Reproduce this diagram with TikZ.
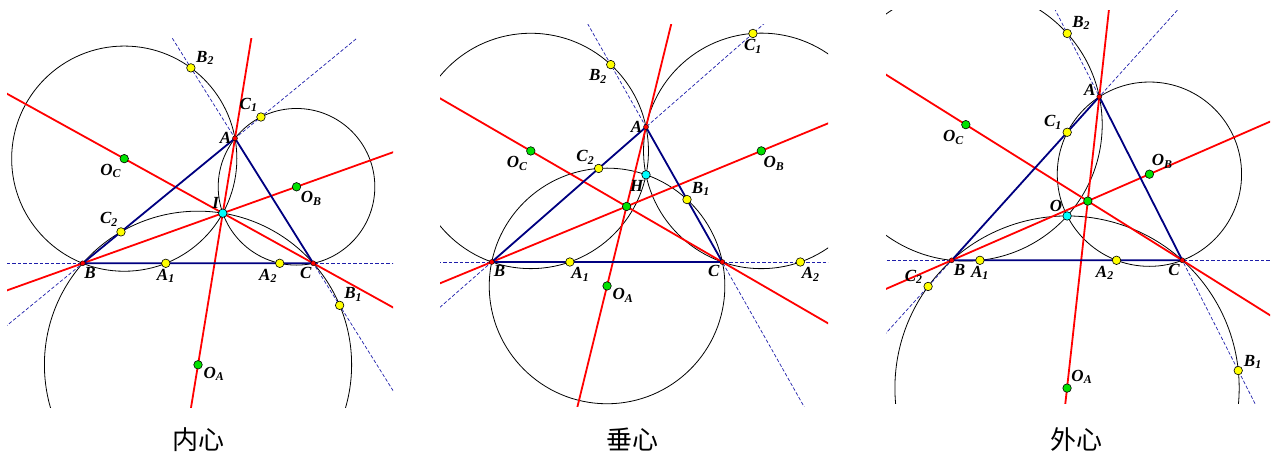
\documentclass[tikz,border=0pt]{standalone}
\usepackage{fontspec}
\setmainfont{Liberation Serif}
\newfontfamily\cjk{Noto Sans CJK SC}
\usetikzlibrary{calc}
\definecolor{navy}{RGB}{0,0,128}
\definecolor{dashblue}{RGB}{30,30,170}
\definecolor{ptgreen}{RGB}{0,225,0}
\definecolor{ptyellow}{RGB}{255,255,0}
\definecolor{ptcyan}{RGB}{0,255,255}
\definecolor{ptred}{RGB}{255,0,0}

% centre of the circle through #1 #2 #3, named #4
\newcommand{\ccentre}[4]{%
  \coordinate (#4m1) at ($(#1)!.5!(#2)$);
  \coordinate (#4n1) at ($(#4m1)!1!90:(#2)$);
  \coordinate (#4m2) at ($(#2)!.5!(#3)$);
  \coordinate (#4n2) at ($(#4m2)!1!90:(#3)$);
  \coordinate (#4) at (intersection of #4m1--#4n1 and #4m2--#4n2);
}
% circle (centre #1) through #2 meets line #2--#3 again in #4
\newcommand{\otherpt}[4]{%
  \coordinate (#4f) at ($(#2)!(#1)!(#3)$);
  \coordinate (#4) at ($(#2)!2!(#4f)$);
}

\begin{document}
\begin{tikzpicture}[
    x=1pt, y=-1pt,
    vtx/.style={circle, draw=black, fill=ptred, inner sep=0pt, minimum size=5pt, line width=0.4pt, label distance=2pt},
    ypt/.style={circle, draw=black, fill=ptyellow, inner sep=0pt, minimum size=8.5pt, line width=0.6pt, label distance=1pt},
    gpt/.style={ypt, fill=ptgreen},
    cpt/.style={ypt, fill=ptcyan},
    lbl/.style={font=\bfseries\itshape\fontsize{17}{17}\selectfont, inner sep=1pt},
    circ/.style={draw=black, line width=0.8pt},
    ext/.style={draw=dashblue, line width=0.7pt, dash pattern=on 3.5pt off 2pt},
    bis/.style={draw=ptred, line width=1.8pt},
    tri/.style={draw=navy, line width=1.8pt, line join=round},
    ctitle/.style={font={\cjk\fontsize{26}{26}\selectfont}}
]
\useasboundingbox (0,0) rectangle (1274,455);

% ---------- incentre
\coordinate (A) at (235,138.3);
\coordinate (B) at (82.7,263.3);
\coordinate (C) at (313.3,263.3);
\coordinate (ba) at ($(B)!20pt!(A)$);
\coordinate (bc) at ($(B)!20pt!(C)$);
\coordinate (bm) at ($(ba)!.5!(bc)$);
\coordinate (ca) at ($(C)!20pt!(A)$);
\coordinate (cb) at ($(C)!20pt!(B)$);
\coordinate (cm) at ($(ca)!.5!(cb)$);
\coordinate (P) at (intersection of B--bm and C--cm);
\ccentre{P}{B}{C}{OA}
\ccentre{P}{C}{A}{OB}
\ccentre{P}{A}{B}{OC}
\otherpt{OC}{B}{C}{A1}
\otherpt{OB}{C}{B}{A2}
\otherpt{OA}{C}{A}{B1}
\otherpt{OC}{A}{C}{B2}
\otherpt{OB}{A}{B}{C1}
\otherpt{OA}{B}{A}{C2}

\begin{scope}
  \clip (7,38) rectangle (393,407);
  \foreach \ctr/\thru in {OA/B, OB/C, OC/A}
    \draw[circ] let \p1=($(\thru)-(\ctr)$), \n1={veclen(\x1,\y1)} in (\ctr) circle (\n1);
  \foreach \u/\v in {B/C, A/B, A/C}
    \draw[ext] ($(\u)!-3!(\v)$) -- ($(\u)!4!(\v)$);
  \foreach \u/\v in {A/OA, B/OB, C/OC}
    \draw[bis] ($(\u)!-4!(\v)$) -- ($(\u)!4!(\v)$);
  \draw[tri] (A) -- (B) -- (C) -- cycle;
\end{scope}

\node[ypt, label={[lbl]270:A\textsubscript{1}}] (a1i) at (A1) {};
\node[ypt, label={[lbl]250:A\textsubscript{2}}] (a2i) at (A2) {};
\node[ypt, label={[lbl]40:B\textsubscript{1}}] (b1i) at (B1) {};
\node[ypt, label={[lbl]25:B\textsubscript{2}}] (b2i) at (B2) {};
\node[ypt, label={[lbl]120:C\textsubscript{1}}] (c1i) at (C1) {};
\node[ypt, label={[lbl]115:C\textsubscript{2}}] (c2i) at (C2) {};
\node[gpt, label={[lbl]350:O\textsubscript{A}}] (oai) at (OA) {};
\node[gpt, label={[lbl]315:O\textsubscript{B}}] (obi) at (OB) {};
\node[gpt, label={[lbl]245:O\textsubscript{C}}] (oci) at (OC) {};
\node[cpt, label={[lbl]125:I}] (pi) at (P) {};
\node[vtx, label={[lbl]180:A}] (ai) at (A) {};
\node[vtx, label={[lbl]280:B}] (bi) at (B) {};
\node[vtx, label={[lbl]255:C}] (ci) at (C) {};
\node[ctitle] (capi) at (198,440) {内心};

% ---------- orthocentre
\coordinate (A) at (646,127);
\coordinate (B) at (491.7,262);
\coordinate (C) at (722.3,262);
\coordinate (fa) at ($(B)!(A)!(C)$);
\coordinate (fb) at ($(C)!(B)!(A)$);
\coordinate (P) at (intersection of A--fa and B--fb);
\ccentre{P}{B}{C}{OA}
\ccentre{P}{C}{A}{OB}
\ccentre{P}{A}{B}{OC}
\otherpt{OC}{B}{C}{A1}
\otherpt{OB}{C}{B}{A2}
\otherpt{OA}{C}{A}{B1}
\otherpt{OC}{A}{C}{B2}
\otherpt{OB}{A}{B}{C1}
\otherpt{OA}{B}{A}{C2}
\coordinate (N) at (intersection of A--OA and B--OB);

\begin{scope}
  \clip (440,24) rectangle (828,406);
  \foreach \ctr/\thru in {OA/B, OB/C, OC/A}
    \draw[circ] let \p1=($(\thru)-(\ctr)$), \n1={veclen(\x1,\y1)} in (\ctr) circle (\n1);
  \foreach \u/\v in {B/C, A/B, A/C}
    \draw[ext] ($(\u)!-3!(\v)$) -- ($(\u)!4!(\v)$);
  \foreach \u/\v in {A/OA, B/OB, C/OC}
    \draw[bis] ($(\u)!-4!(\v)$) -- ($(\u)!4!(\v)$);
  \draw[tri] (A) -- (B) -- (C) -- cycle;
\end{scope}

\node[ypt, label={[lbl]275:A\textsubscript{1}}] (a1h) at (A1) {};
\node[ypt, label={[lbl]275:A\textsubscript{2}}] (a2h) at (A2) {};
\node[ypt, label={[lbl]35:B\textsubscript{1}}] (b1h) at (B1) {};
\node[ypt, label={[lbl]235:B\textsubscript{2}}] (b2h) at (B2) {};
\node[ypt, label={[lbl]270:C\textsubscript{1}}] (c1h) at (C1) {};
\node[ypt, label={[lbl]135:C\textsubscript{2}}] (c2h) at (C2) {};
\node[gpt, label={[lbl]340:O\textsubscript{A}}] (oah) at (OA) {};
\node[gpt, label={[lbl]285:O\textsubscript{B}}] (obh) at (OB) {};
\node[gpt, label={[lbl]245:O\textsubscript{C}}] (och) at (OC) {};
\node[gpt] (nh) at (N) {};
\node[cpt, label={[lbl]250:H}] (ph) at (P) {};
\node[vtx, label={[lbl]180:A}] (ah) at (A) {};
\node[vtx, label={[lbl]290:B}] (bh) at (B) {};
\node[vtx, label={[lbl]235:C}] (ch) at (C) {};
\node[ctitle] (caph) at (632,440) {垂心};

% ---------- circumcentre
\coordinate (A) at (1099.3,96.7);
\coordinate (B) at (951.7,260.3);
\coordinate (C) at (1182.3,260.3);
\ccentre{A}{B}{C}{P}
\ccentre{P}{B}{C}{OA}
\ccentre{P}{C}{A}{OB}
\ccentre{P}{A}{B}{OC}
\otherpt{OC}{B}{C}{A1}
\otherpt{OB}{C}{B}{A2}
\otherpt{OA}{C}{A}{B1}
\otherpt{OC}{A}{C}{B2}
\otherpt{OB}{A}{B}{C1}
\otherpt{OA}{B}{A}{C2}
\coordinate (N) at (intersection of A--OA and B--OB);

\begin{scope}
  \clip (886,10) rectangle (1270,403);
  \foreach \ctr/\thru in {OA/B, OB/C, OC/A}
    \draw[circ] let \p1=($(\thru)-(\ctr)$), \n1={veclen(\x1,\y1)} in (\ctr) circle (\n1);
  \foreach \u/\v in {B/C, A/B, A/C}
    \draw[ext] ($(\u)!-3!(\v)$) -- ($(\u)!4!(\v)$);
  \foreach \u/\v in {A/OA, B/OB, C/OC}
    \draw[bis] ($(\u)!-4!(\v)$) -- ($(\u)!4!(\v)$);
  \draw[tri] (A) -- (B) -- (C) -- cycle;
\end{scope}

\node[ypt, label={[lbl]270:A\textsubscript{1}}] (a1o) at (A1) {};
\node[ypt, label={[lbl]250:A\textsubscript{2}}] (a2o) at (A2) {};
\node[ypt, label={[lbl]5:B\textsubscript{1}}] (b1o) at (B1) {};
\node[ypt, label={[lbl]30:B\textsubscript{2}}] (b2o) at (B2) {};
\node[ypt, label={[lbl]155:C\textsubscript{1}}] (c1o) at (C1) {};
\node[ypt, label={[lbl]160:C\textsubscript{2}}] (c2o) at (C2) {};
\node[gpt, label={[lbl]45:O\textsubscript{A}}] (oao) at (OA) {};
\node[gpt, label={[lbl]75:O\textsubscript{B}}] (obo) at (OB) {};
\node[gpt, label={[lbl]260:O\textsubscript{C}}] (oco) at (OC) {};
\node[gpt] (no) at (N) {};
\node[cpt, label={[lbl]145:O}] (po) at (P) {};
\node[vtx, label={[lbl]170:A}] (ao) at (A) {};
\node[vtx, label={[lbl]290:B}] (bo) at (B) {};
\node[vtx, label={[lbl]240:C}] (co) at (C) {};
\node[ctitle] (capo) at (1076,440) {外心};

\end{tikzpicture}
\end{document}
